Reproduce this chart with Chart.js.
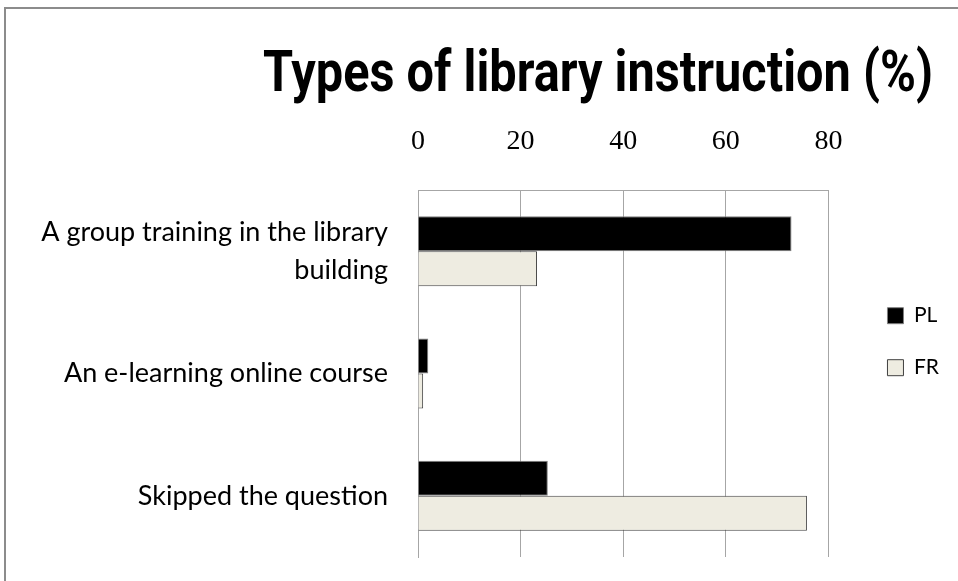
<!DOCTYPE html>
<html><head><meta charset="utf-8">
<script src="https://cdn.jsdelivr.net/npm/chart.js@4/dist/chart.umd.min.js"></script>
<style>
html,body{margin:0;padding:0;background:#fff;}
#wrap{position:relative;width:958px;height:581px;overflow:hidden;}
#frame{position:absolute;left:4px;top:7px;width:970px;height:600px;border-left:2px solid #8c8c8c;border-top:2px solid #8c8c8c;pointer-events:none;}
canvas{display:block;}
</style></head><body>
<div id="wrap"><canvas id="c" width="958" height="581"></canvas><div id="frame"></div></div>
<script>
const categories = [["A group training in the library", "building"], "An e-learning online course", "Skipped the question"];
const seriesNames = ["PL", "FR"];
const plValues = [72.8, 2.0, 25.3];
const frValues = [23.2, 1.0, 75.8];
const xTickValues = [0, 20, 40, 60, 80];
const chartTitle = "Types of library instruction (%)";

const gridGray = '#a6a6a6';
const noPad = s => { s.paddingTop = 0; s.paddingBottom = 0; s.paddingLeft = 0; s.paddingRight = 0; };

// Place the title block over the span it occupies in the original (condensed title)
const titleSpan = {
  id: 'titleSpan',
  afterLayout(chart) {
    const t = chart.titleBlock;
    if (t) { t.left = 263; t.right = 933; t.width = 670; }
  }
};

new Chart(document.getElementById('c'), {
  type: 'bar',
  data: {
    labels: categories,
    datasets: [
      { label: seriesNames[0], data: plValues, backgroundColor: '#000000', borderColor: '#7f7f7f', borderWidth: 1, categoryPercentage: 0.572, barPercentage: 1.0 },
      { label: seriesNames[1], data: frValues, backgroundColor: '#EEECE1', borderColor: '#404040', borderWidth: 1, categoryPercentage: 0.572, barPercentage: 1.0 }
    ]
  },
  plugins: [titleSpan],
  options: {
    responsive: false,
    animation: false,
    indexAxis: 'y',
    layout: { padding: { left: 0, right: 0, top: 0, bottom: 24 } },
    plugins: {
      title: { display: true, text: chartTitle, color: '#000', align: 'center',
        font: { family: "Roboto, 'Liberation Sans', sans-serif", size: 58, weight: 'bold', lineHeight: 1.2 },
        padding: { top: 42, bottom: 10 } },
      legend: { position: 'right', fullSize: false, align: 'start',
        title: { display: true, text: '', font: { size: 10, lineHeight: 1.2 }, padding: { top: 0, bottom: 72.2 } },
        labels: { boxWidth: 16, boxHeight: 16, padding: 31, color: '#000', font: { family: 'Lato', size: 21 } } },
      tooltip: { enabled: false }
    },
    scales: {
      x: { position: 'top', min: xTickValues[0], max: xTickValues[xTickValues.length - 1],
        afterBuildTicks: s => { s.ticks = xTickValues.map(v => ({ value: v })); },
        ticks: { padding: 32, color: '#000', font: { family: 'Liberation Serif', size: 28 } },
        grid: { color: gridGray, lineWidth: 1, drawTicks: false },
        border: { color: gridGray },
        afterFit: s => { noPad(s); s.height = 68.4; } },
      y: { ticks: { padding: 30, color: '#000', font: { family: 'Lato', size: 27, lineHeight: 1.4 } },
        grid: { display: false, drawTicks: false },
        border: { color: gridGray },
        afterFit: s => { noPad(s); s.width = 418; } },
      gapInner: { axis: 'y', type: 'linear', position: 'right', display: true, weight: 0,
        grid: { display: false, drawTicks: false }, ticks: { display: false }, border: { display: false },
        afterFit: s => { noPad(s); s.width = 28; } },
      gapOuter: { axis: 'y', type: 'linear', position: 'right', display: true, weight: 2000,
        grid: { display: false, drawTicks: false }, ticks: { display: false }, border: { display: false },
        afterFit: s => { noPad(s); s.width = 9; } }
    }
  }
});
</script>
</body></html>
